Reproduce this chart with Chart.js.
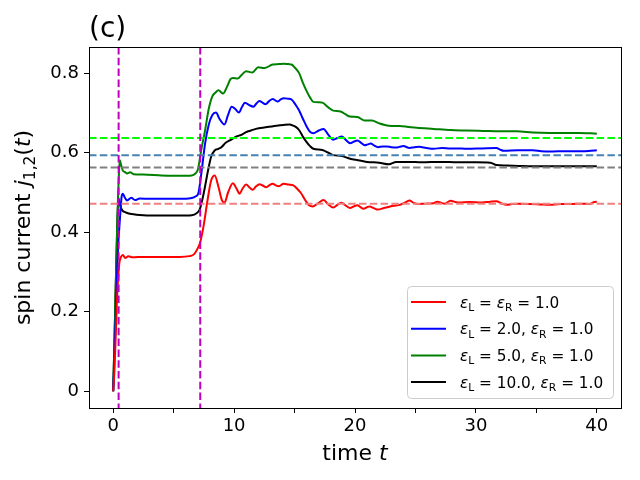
<!DOCTYPE html>
<html>
<head>
<meta charset="utf-8">
<script src="https://cdn.jsdelivr.net/npm/chart.js@4.4.0/dist/chart.umd.min.js"></script>
<style>
  html, body { margin: 0; padding: 0; background: #fff; }
  canvas { display: block; }
</style>
</head>
<body>
<canvas id="chart" width="640" height="480"></canvas>
<script>
// values
const tRed = [0, 0.1, 0.2, 0.3, 0.4, 0.5, 0.65, 0.8, 1.0, 1.25, 1.6, 2.5, 4, 5.5, 6.3, 6.7, 7.0, 7.2, 7.5, 7.8,
  8.1, 8.4, 8.7, 9.0, 9.2, 9.5, 9.9, 10.2, 10.45, 10.7, 11.0, 11.3, 11.55, 11.8, 12.1, 12.4, 12.65, 12.9, 13.2, 13.45,
  13.7, 14.1, 14.5, 14.9, 15.2, 15.5, 15.9, 16.2, 16.5, 16.9, 17.4, 17.8, 18.2, 18.6, 18.9, 19.2, 19.6, 19.9, 20.2, 20.45,
  20.7, 21.0, 21.2, 21.6, 21.9, 22.4, 22.9, 23.7, 24.1, 24.5, 24.85, 25.2, 25.8, 26.5, 26.8, 27.4, 27.9, 28.5, 29.5, 30.5,
  31.2, 31.7, 32.1, 32.5, 33.0, 33.6, 34.5, 35.3, 36.1, 37, 37.8, 38.8, 39.4, 39.8, 40.0];
const jRed = [0, 0.05, 0.13, 0.22, 0.28, 0.32, 0.338, 0.343, 0.335, 0.34, 0.337, 0.338, 0.338, 0.338, 0.34, 0.345, 0.36, 0.375, 0.42, 0.48,
  0.53, 0.543, 0.515, 0.48, 0.474, 0.5, 0.523, 0.51, 0.497, 0.51, 0.52, 0.512, 0.507, 0.515, 0.521, 0.517, 0.513, 0.518, 0.522, 0.518,
  0.516, 0.522, 0.52, 0.518, 0.51, 0.5, 0.48, 0.468, 0.465, 0.472, 0.481, 0.47, 0.462, 0.47, 0.474, 0.468, 0.461, 0.465, 0.468, 0.463,
  0.459, 0.463, 0.465, 0.46, 0.457, 0.461, 0.465, 0.469, 0.474, 0.48, 0.474, 0.471, 0.472, 0.473, 0.477, 0.472, 0.479, 0.475, 0.476, 0.475,
  0.477, 0.478, 0.473, 0.469, 0.471, 0.472, 0.471, 0.47, 0.469, 0.471, 0.471, 0.472, 0.471, 0.476, 0.477];

const tBlue = [0, 0.1, 0.2, 0.3, 0.4, 0.55, 0.7, 0.8, 0.95, 1.15, 1.5, 1.8, 2.2, 3, 4.5, 6.0, 6.5, 6.8, 7.05, 7.3,
  7.6, 7.9, 8.2, 8.5, 8.8, 9.2, 9.5, 9.8, 10.1, 10.4, 10.65, 10.9, 11.25, 11.6, 11.85, 12.1, 12.35, 12.6, 12.9, 13.2,
  13.4, 13.6, 13.85, 14.1, 14.45, 14.75, 15.1, 15.4, 15.7, 16.0, 16.3, 16.55, 17.0, 17.4, 17.8, 18.2, 18.55, 18.9, 19.25, 19.6,
  19.9, 20.2, 20.5, 20.8, 21.05, 21.3, 21.6, 21.9, 22.3, 22.6, 23.0, 23.4, 23.7, 24.0, 24.5, 24.9, 25.3, 25.9, 26.5, 27.2,
  27.9, 28.5, 29.2, 30.5, 31.7, 32.0, 32.3, 33.5, 34.7, 35.4, 36.1, 37.5, 38.8, 39.5, 40];
const jBlue = [0, 0.08, 0.18, 0.28, 0.36, 0.43, 0.49, 0.497, 0.488, 0.48, 0.487, 0.481, 0.485, 0.484, 0.484, 0.484, 0.486, 0.49, 0.499, 0.55,
  0.623, 0.67, 0.695, 0.701, 0.685, 0.671, 0.695, 0.716, 0.71, 0.701, 0.715, 0.726, 0.72, 0.716, 0.724, 0.73, 0.726, 0.722, 0.73, 0.735,
  0.732, 0.729, 0.734, 0.737, 0.736, 0.734, 0.72, 0.705, 0.685, 0.666, 0.652, 0.649, 0.656, 0.66, 0.645, 0.633, 0.637, 0.641, 0.632, 0.624,
  0.628, 0.631, 0.625, 0.619, 0.621, 0.623, 0.618, 0.614, 0.616, 0.616, 0.614, 0.613, 0.615, 0.617, 0.612, 0.614, 0.615, 0.612, 0.61, 0.612,
  0.611, 0.611, 0.61, 0.611, 0.612, 0.608, 0.605, 0.606, 0.606, 0.604, 0.603, 0.604, 0.604, 0.605, 0.606];

const tGreen = [0, 0.1, 0.2, 0.3, 0.4, 0.48, 0.55, 0.65, 0.8, 0.95, 1.15, 1.4, 1.7, 2.5, 4, 5.5, 6.5, 6.8, 7.0, 7.3,
  7.6, 7.9, 8.2, 8.45, 8.7, 9.1, 9.4, 9.7, 9.9, 10.3, 10.6, 11.0, 11.5, 12.0, 12.5, 13.2, 13.7, 14.1, 14.5, 14.75,
  15.0, 15.4, 15.7, 16.0, 16.3, 16.55, 17.0, 17.3, 17.8, 18.2, 18.8, 19.2, 19.6, 20.2, 20.8, 21.4, 22.0, 22.8, 23.7, 24.4,
  25.1, 26.5, 27.9, 29.2, 30.6, 32.0, 33.4, 34.7, 36.1, 37.4, 38.5, 40];
const jGreen = [0, 0.12, 0.25, 0.38, 0.49, 0.55, 0.581, 0.57, 0.555, 0.552, 0.548, 0.551, 0.546, 0.545, 0.543, 0.542, 0.543, 0.548, 0.557, 0.61,
  0.656, 0.71, 0.742, 0.751, 0.757, 0.749, 0.765, 0.785, 0.788, 0.787, 0.795, 0.805, 0.802, 0.815, 0.813, 0.822, 0.823, 0.824, 0.823, 0.822,
  0.815, 0.799, 0.775, 0.755, 0.738, 0.728, 0.727, 0.726, 0.714, 0.706, 0.704, 0.697, 0.691, 0.69, 0.681, 0.681, 0.674, 0.668, 0.667, 0.665,
  0.663, 0.66, 0.657, 0.656, 0.655, 0.654, 0.654, 0.651, 0.65, 0.65, 0.65, 0.648];

const tBlack = [0, 0.1, 0.2, 0.3, 0.42, 0.55, 0.75, 0.95, 1.1, 1.5, 2.5, 4, 5.5, 6.5, 6.9, 7.15, 7.5, 7.85, 8.1, 8.4,
  8.7, 8.95, 9.3, 9.65, 10.2, 10.6, 11.0, 11.4, 11.8, 12.6, 13.5, 14.1, 14.6, 14.9, 15.1, 15.4, 15.7, 16.0, 16.3, 16.55,
  17.3, 17.8, 18.2, 18.9, 19.4, 19.9, 20.5, 21.0, 22.0, 22.8, 23.4, 24.5, 25.5, 27.1, 28.5, 30, 31.2, 31.7, 32.5, 33.5,
  34.7, 36.5, 38, 40];
const jBlack = [0, 0.12, 0.25, 0.37, 0.487, 0.47, 0.455, 0.451, 0.449, 0.446, 0.443, 0.442, 0.442, 0.443, 0.448, 0.457, 0.5, 0.556, 0.59, 0.606,
  0.61, 0.614, 0.625, 0.631, 0.641, 0.645, 0.652, 0.656, 0.66, 0.664, 0.668, 0.67, 0.671, 0.668, 0.665, 0.656, 0.64, 0.627, 0.616, 0.61,
  0.607, 0.6, 0.594, 0.592, 0.587, 0.583, 0.58, 0.577, 0.575, 0.571, 0.577, 0.577, 0.576, 0.577, 0.576, 0.576, 0.575, 0.569, 0.568, 0.567,
  0.566, 0.566, 0.566, 0.566];

const seriesLabels = ['ε_L = ε_R = 1.0', 'ε_L = 2.0, ε_R = 1.0', 'ε_L = 5.0, ε_R = 1.0', 'ε_L = 10.0, ε_R = 1.0'];
const seriesColors = ['#ff0000', '#0000ff', '#008000', '#000000'];

const refLevels = [0.637, 0.594, 0.563, 0.472];
const refColors = ['#00ff00', '#4682b4', '#808080', '#f08080'];
const switchTimes = [0.45, 7.2];

const xTicks = [0, 5, 10, 15, 20, 25, 30, 35, 40];
const xTickLabels = ['0', '', '10', '', '20', '', '30', '', '40'];
const yTicks = [0, 0.2, 0.4, 0.6, 0.8];
const yTickLabels = ['0', '0.2', '0.4', '0.6', '0.8'];

const FONT = '"DejaVu Sans", "Liberation Sans", sans-serif';

const toPoints = (ts, js) => ts.map((t, i) => ({ x: t, y: js[i] }));
const series = [[tRed, jRed], [tBlue, jBlue], [tGreen, jGreen], [tBlack, jBlack]];

// text pieces: [text, style] with style '' | 'i' | 'sub'
function parseLabel(s) {
  const out = [];
  for (let i = 0; i < s.length; i++) {
    const c = s[i];
    if (c === '_') { out.push([s[i + 1], 'sub']); i++; }
    else if (c === 'ε') out.push([c, 'i']);
    else if (out.length && out[out.length - 1][1] === '') out[out.length - 1][0] += c;
    else out.push([c, '']);
  }
  return out;
}

function setFont(ctx, st, size) {
  const fs = st === 'sub' ? size * 0.7 : size;
  ctx.font = (st === 'i' ? 'oblique ' : '') + fs + 'px ' + FONT;
}

function richWidth(ctx, pieces, size) {
  let w = 0;
  for (const [txt, st] of pieces) { setFont(ctx, st, size); w += ctx.measureText(txt).width; }
  return w;
}

function drawRich(ctx, pieces, x, y, size) {
  let cx = x;
  ctx.textAlign = 'left';
  ctx.textBaseline = 'alphabetic';
  for (const [txt, st] of pieces) {
    setFont(ctx, st, size);
    ctx.fillText(txt, cx, st === 'sub' ? y + size * 0.22 : y);
    cx += ctx.measureText(txt).width;
  }
}

const decorations = {
  id: 'decorations',
  afterDatasetsDraw(chart) {
    const { ctx, chartArea: a, scales: { x, y } } = chart;
    ctx.save();
    ctx.beginPath();
    ctx.rect(a.left, a.top, a.right - a.left, a.bottom - a.top);
    ctx.clip();
    ctx.lineWidth = 2;
    ctx.setLineDash([7.5, 3.3]);
    refLevels.forEach((v, i) => {
      const py = y.getPixelForValue(v);
      ctx.strokeStyle = refColors[i];
      ctx.beginPath();
      ctx.moveTo(a.left, py);
      ctx.lineTo(a.right, py);
      ctx.stroke();
    });
    switchTimes.forEach((t) => {
      const px = x.getPixelForValue(t);
      ctx.strokeStyle = '#bf00bf';
      ctx.beginPath();
      ctx.moveTo(px, a.top);
      ctx.lineTo(px, a.bottom);
      ctx.stroke();
    });
    ctx.restore();
  },
  afterDraw(chart) {
    const { ctx, chartArea: a } = chart;
    ctx.save();
    ctx.fillStyle = '#000';
    ctx.strokeStyle = '#000';
    ctx.lineWidth = 1;
    ctx.strokeRect(a.left + 0.5, a.top + 0.5, a.right - a.left, a.bottom - a.top);

    // title
    ctx.font = '28px ' + FONT;
    ctx.textAlign = 'left';
    ctx.textBaseline = 'alphabetic';
    ctx.fillText('(c)', a.left, 37);

    // x label
    const xl = [['time ', ''], ['t', 'i']];
    drawRich(ctx, xl, (a.left + a.right) / 2 - richWidth(ctx, xl, 22) / 2, 460, 22);

    // y label
    const yl = [['spin current ', ''], ['j', 'i'], ['1,2', 'sub'], ['(', ''], ['t', 'i'], [')', '']];
    ctx.save();
    ctx.translate(30, (a.top + a.bottom) / 2);
    ctx.rotate(-Math.PI / 2);
    drawRich(ctx, yl, -richWidth(ctx, yl, 22) / 2, 0, 22);
    ctx.restore();

    // legend
    const bx = 407, by = 286, bw = 206, bh = 112;
    ctx.fillStyle = 'rgba(255,255,255,0.8)';
    ctx.strokeStyle = '#cccccc';
    ctx.beginPath();
    ctx.roundRect(bx + 0.5, by + 0.5, bw, bh, 4);
    ctx.fill();
    ctx.stroke();
    seriesLabels.forEach((lab, i) => {
      const ry = 302 + i * 26.7;
      ctx.strokeStyle = seriesColors[i];
      ctx.lineWidth = 2;
      ctx.beginPath();
      ctx.moveTo(411, ry);
      ctx.lineTo(446, ry);
      ctx.stroke();
      ctx.fillStyle = '#000';
      drawRich(ctx, parseLabel(lab), 460, ry + 5.5, 15.3);
    });
    ctx.restore();
  }
};

new Chart(document.getElementById('chart'), {
  type: 'line',
  data: {
    datasets: series.map(([ts, js], i) => ({
      label: seriesLabels[i],
      data: toPoints(ts, js),
      borderColor: seriesColors[i],
      borderWidth: 2,
      pointRadius: 0,
      fill: false,
      cubicInterpolationMode: 'monotone'
    }))
  },
  options: {
    responsive: false,
    animation: false,
    devicePixelRatio: 1,
    layout: { padding: { top: 47, right: 19, left: 0, bottom: 0 } },
    plugins: { legend: { display: false }, tooltip: { enabled: false } },
    scales: {
      x: {
        type: 'linear',
        min: -2,
        max: 42,
        afterFit: (scale) => { scale.height = 72; },
        afterBuildTicks: (scale) => { scale.ticks = xTicks.map((v) => ({ value: v })); },
        ticks: {
          autoSkip: false,
          maxRotation: 0,
          padding: 3,
          color: '#000',
          font: { family: FONT, size: 18 },
          callback: (v, i) => xTickLabels[i]
        },
        grid: { drawOnChartArea: false, color: '#000', tickLength: 5 },
        border: { color: '#000', width: 1 }
      },
      y: {
        min: -0.042,
        max: 0.866,
        afterFit: (scale) => { scale.width = 89; },
        afterBuildTicks: (scale) => { scale.ticks = yTicks.map((v) => ({ value: v })); },
        ticks: {
          autoSkip: false,
          padding: 5,
          color: '#000',
          font: { family: FONT, size: 18 },
          callback: (v, i) => yTickLabels[i]
        },
        grid: { drawOnChartArea: false, color: '#000', tickLength: 5 },
        border: { color: '#000', width: 1 }
      }
    }
  },
  plugins: [decorations]
});
</script>
</body>
</html>
